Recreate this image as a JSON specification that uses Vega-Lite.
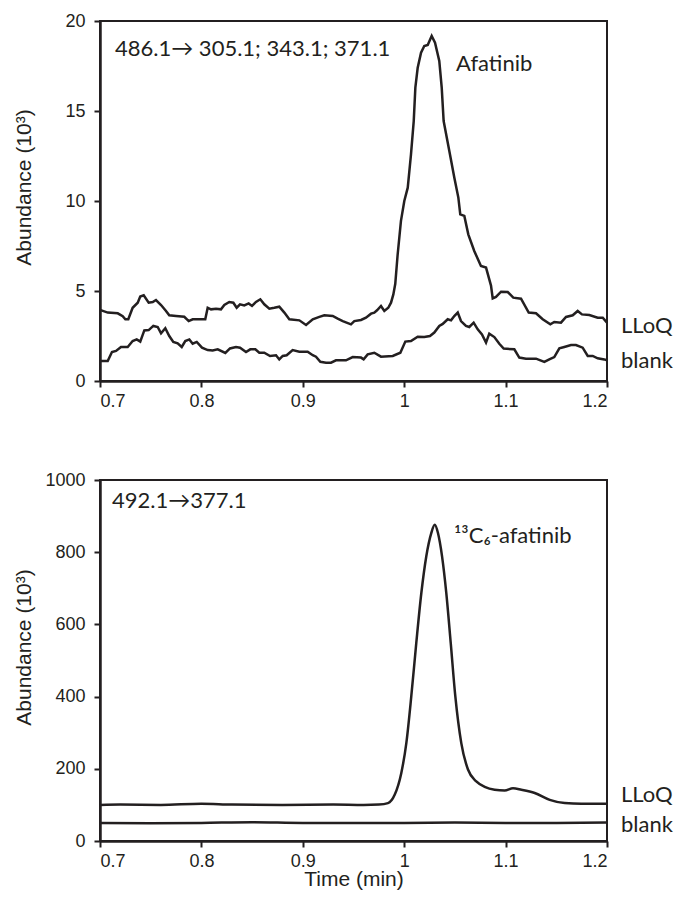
{
  "$schema": "https://vega.github.io/schema/vega-lite/v6.json",
  "background": "white",
  "padding": {"left": 12, "top": 11, "right": 5, "bottom": 5},
  "spacing": 59,
  "config": {
    "view": {"stroke": "#231f20", "strokeWidth": 2},
    "axis": {
      "domainColor": "#231f20", "domainWidth": 2.5,
      "tickColor": "#231f20", "tickWidth": 2, "tickSize": 6,
      "labelFont": "Liberation Sans", "labelFontSize": 18, "labelColor": "#231f20",
      "titleFont": "Liberation Sans", "titleFontSize": 21, "titleFontWeight": "normal", "titleColor": "#231f20",
      "grid": false
    },
    "axisX": {"labelPadding": 5},
    "axisY": {"labelPadding": 9}
  },
  "datasets": {
    "afatinib": [
      {"t":0.700,"abundance":3.95,"trace":"LLoQ"},{"t":0.7076,"abundance":3.8,"trace":"LLoQ"},{"t":0.7175,"abundance":3.76,"trace":"LLoQ"},{"t":0.7224,"abundance":3.6,"trace":"LLoQ"},{"t":0.725,"abundance":3.43,"trace":"LLoQ"},{"t":0.7279,"abundance":3.43,"trace":"LLoQ"},{"t":0.7322,"abundance":4.07,"trace":"LLoQ"},{"t":0.7372,"abundance":4.35,"trace":"LLoQ"},{"t":0.7397,"abundance":4.69,"trace":"LLoQ"},{"t":0.7431,"abundance":4.76,"trace":"LLoQ"},{"t":0.748,"abundance":4.35,"trace":"LLoQ"},{"t":0.752,"abundance":4.39,"trace":"LLoQ"},{"t":0.7552,"abundance":4.5,"trace":"LLoQ"},{"t":0.7602,"abundance":4.22,"trace":"LLoQ"},{"t":0.7651,"abundance":3.89,"trace":"LLoQ"},{"t":0.7683,"abundance":3.65,"trace":"LLoQ"},{"t":0.775,"abundance":3.61,"trace":"LLoQ"},{"t":0.7831,"abundance":3.57,"trace":"LLoQ"},{"t":0.7875,"abundance":3.33,"trace":"LLoQ"},{"t":0.7914,"abundance":3.43,"trace":"LLoQ"},{"t":0.7979,"abundance":3.43,"trace":"LLoQ"},{"t":0.8038,"abundance":3.43,"trace":"LLoQ"},{"t":0.8062,"abundance":4.07,"trace":"LLoQ"},{"t":0.8095,"abundance":3.98,"trace":"LLoQ"},{"t":0.8144,"abundance":4.02,"trace":"LLoQ"},{"t":0.8193,"abundance":3.98,"trace":"LLoQ"},{"t":0.8226,"abundance":4.22,"trace":"LLoQ"},{"t":0.8275,"abundance":4.39,"trace":"LLoQ"},{"t":0.8315,"abundance":4.35,"trace":"LLoQ"},{"t":0.8348,"abundance":4.07,"trace":"LLoQ"},{"t":0.8381,"abundance":4.26,"trace":"LLoQ"},{"t":0.8423,"abundance":4.2,"trace":"LLoQ"},{"t":0.8466,"abundance":4.31,"trace":"LLoQ"},{"t":0.8499,"abundance":4.17,"trace":"LLoQ"},{"t":0.8538,"abundance":4.39,"trace":"LLoQ"},{"t":0.8581,"abundance":4.54,"trace":"LLoQ"},{"t":0.862,"abundance":4.26,"trace":"LLoQ"},{"t":0.867,"abundance":4.02,"trace":"LLoQ"},{"t":0.8719,"abundance":4.07,"trace":"LLoQ"},{"t":0.8768,"abundance":4.13,"trace":"LLoQ"},{"t":0.8818,"abundance":3.8,"trace":"LLoQ"},{"t":0.8867,"abundance":3.43,"trace":"LLoQ"},{"t":0.8966,"abundance":3.37,"trace":"LLoQ"},{"t":0.9032,"abundance":3.11,"trace":"LLoQ"},{"t":0.9098,"abundance":3.43,"trace":"LLoQ"},{"t":0.9163,"abundance":3.56,"trace":"LLoQ"},{"t":0.9212,"abundance":3.65,"trace":"LLoQ"},{"t":0.9295,"abundance":3.61,"trace":"LLoQ"},{"t":0.9344,"abundance":3.46,"trace":"LLoQ"},{"t":0.9394,"abundance":3.33,"trace":"LLoQ"},{"t":0.9475,"abundance":3.15,"trace":"LLoQ"},{"t":0.9508,"abundance":3.33,"trace":"LLoQ"},{"t":0.9574,"abundance":3.39,"trace":"LLoQ"},{"t":0.9623,"abundance":3.52,"trace":"LLoQ"},{"t":0.9673,"abundance":3.74,"trace":"LLoQ"},{"t":0.9705,"abundance":3.8,"trace":"LLoQ"},{"t":0.9732,"abundance":3.93,"trace":"LLoQ"},{"t":0.9771,"abundance":4.17,"trace":"LLoQ"},{"t":0.9804,"abundance":3.89,"trace":"LLoQ"},{"t":0.9843,"abundance":4.07,"trace":"LLoQ"},{"t":0.987,"abundance":4.35,"trace":"LLoQ"},{"t":0.9893,"abundance":4.81,"trace":"LLoQ"},{"t":0.9912,"abundance":5.4,"trace":"LLoQ"},{"t":0.9935,"abundance":7.0,"trace":"LLoQ"},{"t":0.9968,"abundance":8.9,"trace":"LLoQ"},{"t":1.0001,"abundance":10.0,"trace":"LLoQ"},{"t":1.0035,"abundance":10.74,"trace":"LLoQ"},{"t":1.0067,"abundance":12.59,"trace":"LLoQ"},{"t":1.0094,"abundance":14.44,"trace":"LLoQ"},{"t":1.011,"abundance":16.3,"trace":"LLoQ"},{"t":1.0133,"abundance":17.4,"trace":"LLoQ"},{"t":1.0166,"abundance":18.24,"trace":"LLoQ"},{"t":1.0198,"abundance":18.61,"trace":"LLoQ"},{"t":1.0232,"abundance":18.67,"trace":"LLoQ"},{"t":1.0271,"abundance":19.17,"trace":"LLoQ"},{"t":1.0304,"abundance":18.8,"trace":"LLoQ"},{"t":1.0346,"abundance":17.78,"trace":"LLoQ"},{"t":1.037,"abundance":16.3,"trace":"LLoQ"},{"t":1.0389,"abundance":14.44,"trace":"LLoQ"},{"t":1.0445,"abundance":12.78,"trace":"LLoQ"},{"t":1.0494,"abundance":11.3,"trace":"LLoQ"},{"t":1.0534,"abundance":10.19,"trace":"LLoQ"},{"t":1.0553,"abundance":9.26,"trace":"LLoQ"},{"t":1.0593,"abundance":9.17,"trace":"LLoQ"},{"t":1.0632,"abundance":8.15,"trace":"LLoQ"},{"t":1.0691,"abundance":7.22,"trace":"LLoQ"},{"t":1.0757,"abundance":6.39,"trace":"LLoQ"},{"t":1.0807,"abundance":6.3,"trace":"LLoQ"},{"t":1.0856,"abundance":5.3,"trace":"LLoQ"},{"t":1.0873,"abundance":4.59,"trace":"LLoQ"},{"t":1.0905,"abundance":4.67,"trace":"LLoQ"},{"t":1.0955,"abundance":4.96,"trace":"LLoQ"},{"t":1.1021,"abundance":4.94,"trace":"LLoQ"},{"t":1.1076,"abundance":4.63,"trace":"LLoQ"},{"t":1.1152,"abundance":4.57,"trace":"LLoQ"},{"t":1.1228,"abundance":3.8,"trace":"LLoQ"},{"t":1.13,"abundance":3.76,"trace":"LLoQ"},{"t":1.1366,"abundance":3.43,"trace":"LLoQ"},{"t":1.1441,"abundance":3.15,"trace":"LLoQ"},{"t":1.148,"abundance":3.28,"trace":"LLoQ"},{"t":1.1546,"abundance":3.24,"trace":"LLoQ"},{"t":1.1596,"abundance":3.56,"trace":"LLoQ"},{"t":1.1662,"abundance":3.65,"trace":"LLoQ"},{"t":1.1711,"abundance":3.89,"trace":"LLoQ"},{"t":1.1753,"abundance":3.7,"trace":"LLoQ"},{"t":1.1826,"abundance":3.67,"trace":"LLoQ"},{"t":1.1908,"abundance":3.52,"trace":"LLoQ"},{"t":1.1958,"abundance":3.52,"trace":"LLoQ"},{"t":1.2,"abundance":3.24,"trace":"LLoQ"},
      {"t":0.700,"abundance":1.11,"trace":"blank"},{"t":0.7076,"abundance":1.11,"trace":"blank"},{"t":0.7118,"abundance":1.61,"trace":"blank"},{"t":0.7158,"abundance":1.67,"trace":"blank"},{"t":0.7207,"abundance":1.89,"trace":"blank"},{"t":0.7273,"abundance":1.89,"trace":"blank"},{"t":0.7322,"abundance":2.22,"trace":"blank"},{"t":0.7362,"abundance":2.31,"trace":"blank"},{"t":0.7397,"abundance":2.19,"trace":"blank"},{"t":0.7437,"abundance":2.81,"trace":"blank"},{"t":0.748,"abundance":2.83,"trace":"blank"},{"t":0.7526,"abundance":3.06,"trace":"blank"},{"t":0.7569,"abundance":3.0,"trace":"blank"},{"t":0.7602,"abundance":2.65,"trace":"blank"},{"t":0.7644,"abundance":2.93,"trace":"blank"},{"t":0.7683,"abundance":2.5,"trace":"blank"},{"t":0.7723,"abundance":2.17,"trace":"blank"},{"t":0.7766,"abundance":2.09,"trace":"blank"},{"t":0.7806,"abundance":1.89,"trace":"blank"},{"t":0.7841,"abundance":2.22,"trace":"blank"},{"t":0.7881,"abundance":2.31,"trace":"blank"},{"t":0.7914,"abundance":2.07,"trace":"blank"},{"t":0.7954,"abundance":2.17,"trace":"blank"},{"t":0.8006,"abundance":1.85,"trace":"blank"},{"t":0.8062,"abundance":1.72,"trace":"blank"},{"t":0.8111,"abundance":1.7,"trace":"blank"},{"t":0.8161,"abundance":1.76,"trace":"blank"},{"t":0.8236,"abundance":1.56,"trace":"blank"},{"t":0.8282,"abundance":1.81,"trace":"blank"},{"t":0.8341,"abundance":1.89,"trace":"blank"},{"t":0.8381,"abundance":1.85,"trace":"blank"},{"t":0.844,"abundance":1.61,"trace":"blank"},{"t":0.8482,"abundance":1.76,"trace":"blank"},{"t":0.8532,"abundance":1.76,"trace":"blank"},{"t":0.8571,"abundance":1.57,"trace":"blank"},{"t":0.862,"abundance":1.57,"trace":"blank"},{"t":0.8677,"abundance":1.39,"trace":"blank"},{"t":0.8736,"abundance":1.43,"trace":"blank"},{"t":0.8768,"abundance":1.2,"trace":"blank"},{"t":0.8802,"abundance":1.39,"trace":"blank"},{"t":0.8841,"abundance":1.43,"trace":"blank"},{"t":0.89,"abundance":1.72,"trace":"blank"},{"t":0.8966,"abundance":1.63,"trace":"blank"},{"t":0.9048,"abundance":1.63,"trace":"blank"},{"t":0.9098,"abundance":1.43,"trace":"blank"},{"t":0.913,"abundance":1.35,"trace":"blank"},{"t":0.9173,"abundance":1.07,"trace":"blank"},{"t":0.9229,"abundance":1.02,"trace":"blank"},{"t":0.9278,"abundance":1.02,"trace":"blank"},{"t":0.9327,"abundance":1.15,"trace":"blank"},{"t":0.9426,"abundance":1.15,"trace":"blank"},{"t":0.9492,"abundance":1.33,"trace":"blank"},{"t":0.9574,"abundance":1.3,"trace":"blank"},{"t":0.96,"abundance":1.2,"trace":"blank"},{"t":0.964,"abundance":1.48,"trace":"blank"},{"t":0.9705,"abundance":1.57,"trace":"blank"},{"t":0.9771,"abundance":1.35,"trace":"blank"},{"t":0.9887,"abundance":1.39,"trace":"blank"},{"t":0.9962,"abundance":1.57,"trace":"blank"},{"t":1.0011,"abundance":2.19,"trace":"blank"},{"t":1.0067,"abundance":2.22,"trace":"blank"},{"t":1.0133,"abundance":2.46,"trace":"blank"},{"t":1.0198,"abundance":2.44,"trace":"blank"},{"t":1.0254,"abundance":2.5,"trace":"blank"},{"t":1.0297,"abundance":2.69,"trace":"blank"},{"t":1.0346,"abundance":3.06,"trace":"blank"},{"t":1.038,"abundance":3.17,"trace":"blank"},{"t":1.0429,"abundance":3.43,"trace":"blank"},{"t":1.0462,"abundance":3.37,"trace":"blank"},{"t":1.0494,"abundance":3.61,"trace":"blank"},{"t":1.0528,"abundance":3.8,"trace":"blank"},{"t":1.056,"abundance":3.33,"trace":"blank"},{"t":1.0609,"abundance":3.06,"trace":"blank"},{"t":1.0642,"abundance":3.0,"trace":"blank"},{"t":1.0685,"abundance":3.24,"trace":"blank"},{"t":1.0725,"abundance":2.87,"trace":"blank"},{"t":1.0767,"abundance":2.59,"trace":"blank"},{"t":1.0807,"abundance":2.13,"trace":"blank"},{"t":1.0839,"abundance":2.63,"trace":"blank"},{"t":1.0889,"abundance":2.44,"trace":"blank"},{"t":1.0938,"abundance":2.07,"trace":"blank"},{"t":1.0981,"abundance":1.8,"trace":"blank"},{"t":1.1086,"abundance":1.76,"trace":"blank"},{"t":1.1135,"abundance":1.3,"trace":"blank"},{"t":1.1201,"abundance":1.24,"trace":"blank"},{"t":1.13,"abundance":1.24,"trace":"blank"},{"t":1.1382,"abundance":1.06,"trace":"blank"},{"t":1.1431,"abundance":1.2,"trace":"blank"},{"t":1.148,"abundance":1.33,"trace":"blank"},{"t":1.153,"abundance":1.81,"trace":"blank"},{"t":1.1579,"abundance":1.89,"trace":"blank"},{"t":1.1645,"abundance":2.0,"trace":"blank"},{"t":1.1694,"abundance":2.0,"trace":"blank"},{"t":1.176,"abundance":1.85,"trace":"blank"},{"t":1.181,"abundance":1.39,"trace":"blank"},{"t":1.1859,"abundance":1.39,"trace":"blank"},{"t":1.1908,"abundance":1.26,"trace":"blank"},{"t":1.1973,"abundance":1.2,"trace":"blank"},{"t":1.2,"abundance":1.15,"trace":"blank"}
    ],
    "istd": [
      {"t":0.7,"abundance":100,"trace":"LLoQ"},{"t":0.72,"abundance":101,"trace":"LLoQ"},{"t":0.76,"abundance":100,"trace":"LLoQ"},{"t":0.8,"abundance":103,"trace":"LLoQ"},{"t":0.83,"abundance":101,"trace":"LLoQ"},{"t":0.88,"abundance":100,"trace":"LLoQ"},{"t":0.93,"abundance":101,"trace":"LLoQ"},{"t":0.96,"abundance":100,"trace":"LLoQ"},{"t":0.975,"abundance":101,"trace":"LLoQ"},{"t":0.984,"abundance":105,"trace":"LLoQ"},{"t":0.9906,"abundance":128,"trace":"LLoQ"},{"t":0.9971,"abundance":188,"trace":"LLoQ"},{"t":1.0021,"abundance":271,"trace":"LLoQ"},{"t":1.007,"abundance":401,"trace":"LLoQ"},{"t":1.0119,"abundance":548,"trace":"LLoQ"},{"t":1.0169,"abundance":687,"trace":"LLoQ"},{"t":1.0218,"abundance":789,"trace":"LLoQ"},{"t":1.0267,"abundance":853,"trace":"LLoQ"},{"t":1.0301,"abundance":876,"trace":"LLoQ"},{"t":1.0333,"abundance":853,"trace":"LLoQ"},{"t":1.0373,"abundance":789,"trace":"LLoQ"},{"t":1.0415,"abundance":687,"trace":"LLoQ"},{"t":1.0459,"abundance":548,"trace":"LLoQ"},{"t":1.0504,"abundance":401,"trace":"LLoQ"},{"t":1.0563,"abundance":271,"trace":"LLoQ"},{"t":1.0629,"abundance":198,"trace":"LLoQ"},{"t":1.0711,"abundance":165,"trace":"LLoQ"},{"t":1.0794,"abundance":150,"trace":"LLoQ"},{"t":1.0892,"abundance":142,"trace":"LLoQ"},{"t":1.0991,"abundance":140,"trace":"LLoQ"},{"t":1.1073,"abundance":146,"trace":"LLoQ"},{"t":1.1155,"abundance":142,"trace":"LLoQ"},{"t":1.1287,"abundance":133,"trace":"LLoQ"},{"t":1.1435,"abundance":114,"trace":"LLoQ"},{"t":1.1583,"abundance":105,"trace":"LLoQ"},{"t":1.1747,"abundance":103,"trace":"LLoQ"},{"t":1.2,"abundance":103,"trace":"LLoQ"},
      {"t":0.7,"abundance":50,"trace":"blank"},{"t":0.75,"abundance":49,"trace":"blank"},{"t":0.8,"abundance":50,"trace":"blank"},{"t":0.85,"abundance":52,"trace":"blank"},{"t":0.9,"abundance":50,"trace":"blank"},{"t":0.95,"abundance":50,"trace":"blank"},{"t":1.0,"abundance":50,"trace":"blank"},{"t":1.05,"abundance":51,"trace":"blank"},{"t":1.1,"abundance":50,"trace":"blank"},{"t":1.15,"abundance":50,"trace":"blank"},{"t":1.2,"abundance":51,"trace":"blank"}
    ],
    "labels_top": [
      {"t":0.7148,"abundance":18.44,"label":"486.1→ 305.1; 343.1; 371.1"},
      {"t":1.0511,"abundance":17.61,"label":"Afatinib"},
      {"t":1.2138,"abundance":3.06,"label":"LLoQ"},
      {"t":1.2138,"abundance":1.11,"label":"blank"}
    ],
    "labels_bottom": [
      {"t":0.7118,"abundance":942,"label":"492.1→377.1"},
      {"t":1.0491,"abundance":845,"label":"¹³C₆-afatinib"},
      {"t":1.2138,"abundance":127,"label":"LLoQ"},
      {"t":1.2138,"abundance":45,"label":"blank"}
    ]
  },
  "vconcat": [
    {
      "width": 507,
      "height": 360,
      "layer": [
        {
          "data": {"name": "afatinib"},
          "mark": {"type": "line", "color": "#231f20", "strokeWidth": 2.5},
          "encoding": {
            "x": {"field": "t", "type": "quantitative", "scale": {"domain": [0.7, 1.2], "nice": false, "zero": false},
                  "axis": {"values": [0.7, 0.8, 0.9, 1, 1.1, 1.2], "format": "~g", "title": null}},
            "y": {"field": "abundance", "type": "quantitative", "scale": {"domain": [0, 20], "nice": false},
                  "axis": {"values": [0, 5, 10, 15, 20], "title": "Abundance (10³)", "titleX": -76, "titleY": 166, "titleBaseline": "middle"}},
            "detail": {"field": "trace"}
          }
        },
        {
          "data": {"name": "labels_top"},
          "mark": {"type": "text", "align": "left", "baseline": "middle", "font": "Lato", "fontSize": 22, "color": "#231f20"},
          "encoding": {
            "x": {"field": "t", "type": "quantitative"},
            "y": {"field": "abundance", "type": "quantitative"},
            "text": {"field": "label"}
          }
        }
      ]
    },
    {
      "width": 507,
      "height": 361,
      "layer": [
        {
          "data": {"name": "istd"},
          "mark": {"type": "line", "color": "#231f20", "strokeWidth": 2.5, "interpolate": "monotone"},
          "encoding": {
            "x": {"field": "t", "type": "quantitative", "scale": {"domain": [0.7, 1.2], "nice": false, "zero": false},
                  "axis": {"values": [0.7, 0.8, 0.9, 1, 1.1, 1.2], "format": "~g", "title": "Time (min)", "titlePadding": -2}},
            "y": {"field": "abundance", "type": "quantitative", "scale": {"domain": [0, 1000], "nice": false},
                  "axis": {"values": [0, 200, 400, 600, 800, 1000], "format": "d", "title": "Abundance (10³)", "titleX": -76, "titleY": 167, "titleBaseline": "middle"}},
            "detail": {"field": "trace"}
          }
        },
        {
          "data": {"name": "labels_bottom"},
          "mark": {"type": "text", "align": "left", "baseline": "middle", "font": "Lato", "fontSize": 22, "color": "#231f20"},
          "encoding": {
            "x": {"field": "t", "type": "quantitative"},
            "y": {"field": "abundance", "type": "quantitative"},
            "text": {"field": "label"}
          }
        }
      ]
    }
  ]
}
